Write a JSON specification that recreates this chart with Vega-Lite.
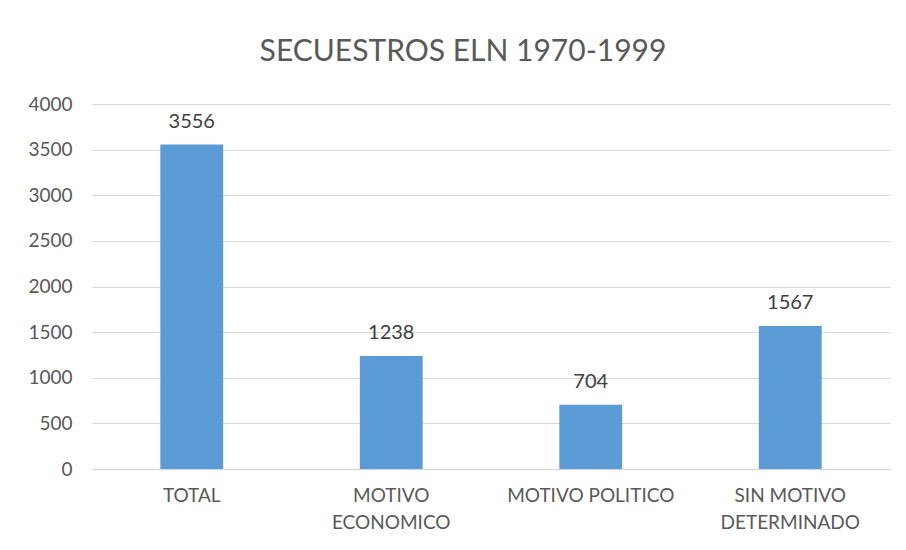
{
  "$schema": "https://vega.github.io/schema/vega-lite/v6.json",
  "width": 798,
  "height": 365,
  "autosize": {"type": "none"},
  "padding": {"left": 92, "top": 104, "right": 16, "bottom": 81},
  "background": "white",
  "title": {
    "text": "SECUESTROS ELN 1970-1999",
    "anchor": "middle",
    "font": "Lato",
    "fontSize": 30,
    "fontWeight": "normal",
    "color": "#595959",
    "offset": 28,
    "dx": -28
  },
  "data": {
    "values": [
      {"categoria": "TOTAL", "valor": 3556},
      {"categoria": "MOTIVO ECONOMICO", "valor": 1238},
      {"categoria": "MOTIVO POLITICO", "valor": 704},
      {"categoria": "SIN MOTIVO DETERMINADO", "valor": 1567}
    ]
  },
  "encoding": {
    "x": {
      "field": "categoria",
      "type": "nominal",
      "sort": null,
      "scale": {"paddingInner": 0.685, "paddingOuter": 0.3425},
      "axis": {
        "title": null,
        "labelAngle": 0,
        "labelFont": "Lato",
        "labelFontSize": 19,
        "labelColor": "#595959",
        "labelPadding": 17,
        "labelLineHeight": 27,
        "labelExpr": "datum.value == 'MOTIVO ECONOMICO' ? ['MOTIVO', 'ECONOMICO'] : datum.value == 'SIN MOTIVO DETERMINADO' ? ['SIN MOTIVO', 'DETERMINADO'] : datum.value",
        "ticks": false,
        "domainColor": "#d9d9d9",
        "domainWidth": 1.5
      }
    },
    "y": {
      "field": "valor",
      "type": "quantitative",
      "scale": {"domain": [0, 4000]},
      "axis": {
        "title": null,
        "values": [0, 500, 1000, 1500, 2000, 2500, 3000, 3500, 4000],
        "format": "d",
        "labelFont": "Lato",
        "labelFontSize": 19,
        "labelColor": "#595959",
        "labelPadding": 20,
        "ticks": false,
        "domain": false,
        "gridColor": "#d9d9d9",
        "gridWidth": 1.2
      }
    }
  },
  "layer": [
    {"mark": {"type": "bar", "color": "#5B9BD5"}},
    {
      "mark": {"type": "text", "dy": -13, "baseline": "bottom", "font": "Lato", "fontSize": 20, "color": "#404040"},
      "encoding": {"text": {"field": "valor", "type": "quantitative", "format": "d"}}
    }
  ],
  "config": {"view": {"stroke": null}}
}
